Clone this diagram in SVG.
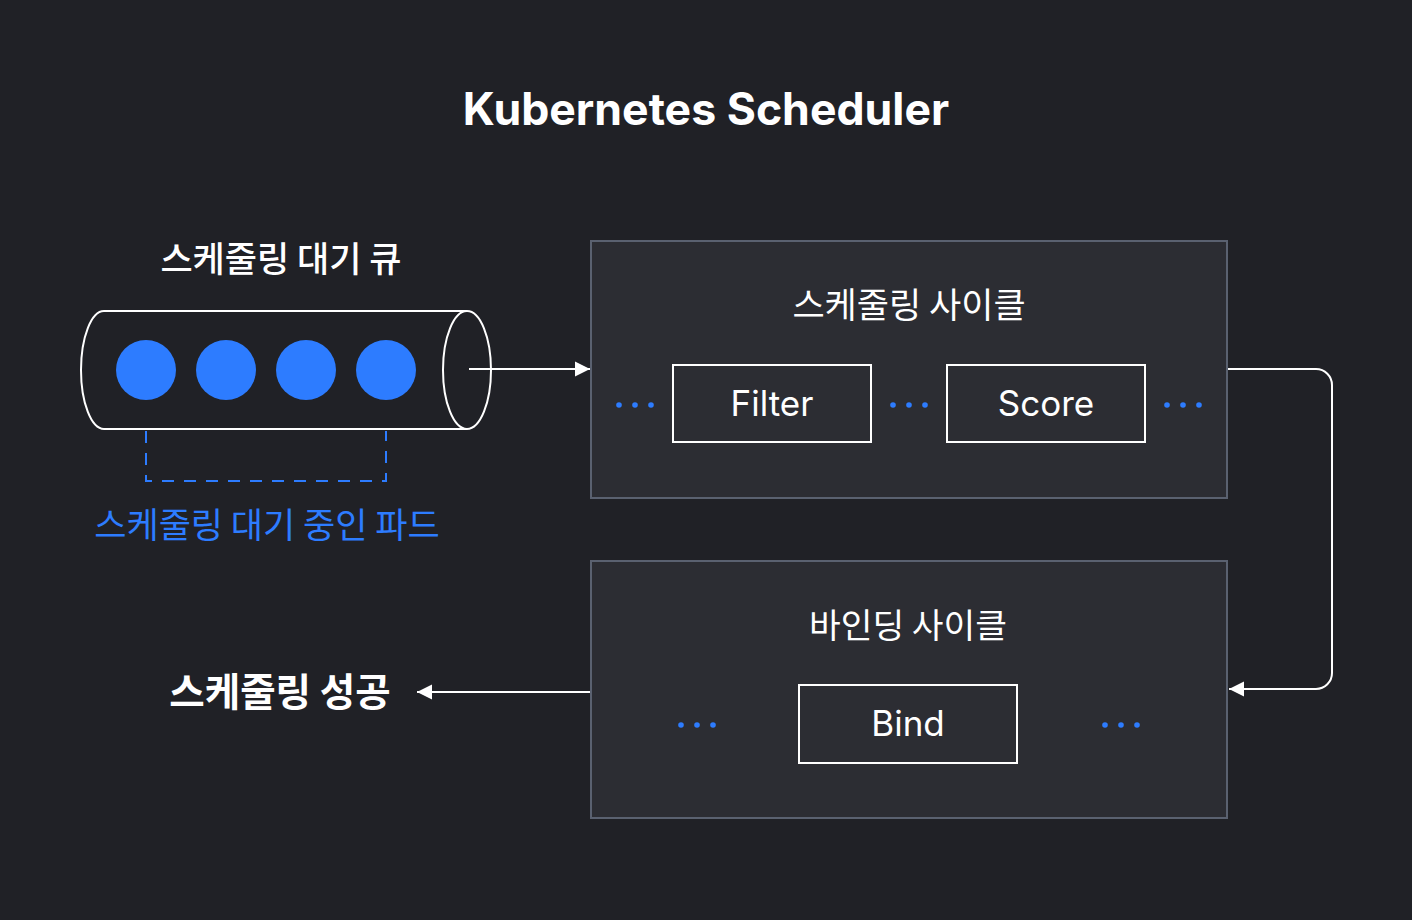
<svg xmlns="http://www.w3.org/2000/svg" width="1412" height="920" viewBox="0 0 1412 920">
<defs>
<style>
.ko{font-family:"Noto Sans CJK KR","Noto Sans",sans-serif;fill:#ffffff;text-anchor:middle}
.en{font-family:Inter,"Liberation Sans",sans-serif;fill:#ffffff;text-anchor:middle}
.panel{fill:#2c2d33;stroke:#5a6170;stroke-width:2}
.box{fill:none;stroke:#ffffff;stroke-width:2}
.dot{fill:#2d7cff}
.conn{fill:none;stroke:#ffffff;stroke-width:2}
</style>
<marker id="ah" viewBox="0 0 10 10" refX="10" refY="5" markerWidth="15" markerHeight="16" markerUnits="userSpaceOnUse" orient="auto">
<path d="M0,0 L10,5 L0,10 Z" fill="#ffffff"/>
</marker>
</defs>
<rect x="0" y="0" width="1412" height="920" fill="#202126"/>
<text class="en" x="706" y="125" font-size="44.6" font-weight="700">Kubernetes Scheduler</text>

<g id="queue">
<text class="ko" x="281" y="272" font-size="35" font-weight="500">스케줄링 대기 큐</text>
<path d="M104,311 L467,311 M104,429 L467,429 M104,311 A23,59 0 0 0 104,429" fill="none" stroke="#ffffff" stroke-width="2"/>
<ellipse cx="467" cy="370" rx="24" ry="59" fill="none" stroke="#ffffff" stroke-width="2"/>
<circle class="dot" cx="146" cy="370" r="30"/>
<circle class="dot" cx="226" cy="370" r="30"/>
<circle class="dot" cx="306" cy="370" r="30"/>
<circle class="dot" cx="386" cy="370" r="30"/>
</g>

<g id="pending">
<path d="M146,431 L146,481 L386,481 L386,431" fill="none" stroke="#2d7cff" stroke-width="2" stroke-dasharray="12,10"/>
<text class="ko" x="267" y="538" font-size="35" style="fill:#2d7cff">스케줄링 대기 중인 파드</text>
</g>

<g id="scheduling-cycle">
<rect class="panel" x="591" y="241" width="636" height="257"/>
<text class="ko" x="909" y="318" font-size="35">스케줄링 사이클</text>
<circle class="dot" cx="619" cy="405" r="2.8"/><circle class="dot" cx="635" cy="405" r="2.8"/><circle class="dot" cx="651" cy="405" r="2.8"/>
<circle class="dot" cx="893" cy="405" r="2.8"/><circle class="dot" cx="909" cy="405" r="2.8"/><circle class="dot" cx="925" cy="405" r="2.8"/>
<circle class="dot" cx="1167" cy="405" r="2.8"/><circle class="dot" cx="1183" cy="405" r="2.8"/><circle class="dot" cx="1199" cy="405" r="2.8"/>
</g>
<g id="filter">
<rect class="box" x="673" y="365" width="198" height="77"/>
<text class="en" x="772" y="416" font-size="35">Filter</text>
</g>
<g id="score">
<rect class="box" x="947" y="365" width="198" height="77"/>
<text class="en" x="1046" y="416" font-size="35">Score</text>
</g>

<g id="binding-cycle">
<rect class="panel" x="591" y="561" width="636" height="257"/>
<text class="ko" x="908" y="638" font-size="34.5">바인딩 사이클</text>
<circle class="dot" cx="681" cy="725" r="2.8"/><circle class="dot" cx="697" cy="725" r="2.8"/><circle class="dot" cx="713" cy="725" r="2.8"/>
<circle class="dot" cx="1105" cy="725" r="2.8"/><circle class="dot" cx="1121" cy="725" r="2.8"/><circle class="dot" cx="1137" cy="725" r="2.8"/>
</g>
<g id="bind">
<rect class="box" x="799" y="685" width="218" height="78"/>
<text class="en" x="908" y="736" font-size="35">Bind</text>
</g>

<g id="success">
<text class="ko" x="280" y="706" font-size="38.5" font-weight="700">스케줄링 성공</text>
</g>

<g id="connectors">
<path class="conn" d="M469,369 L590,369" marker-end="url(#ah)"/>
<path class="conn" d="M1228,369 L1316,369 A16,16 0 0 1 1332,385 L1332,673 A16,16 0 0 1 1316,689 L1229,689" marker-end="url(#ah)"/>
<path class="conn" d="M590,692 L417,692" marker-end="url(#ah)"/>
</g>
</svg>
